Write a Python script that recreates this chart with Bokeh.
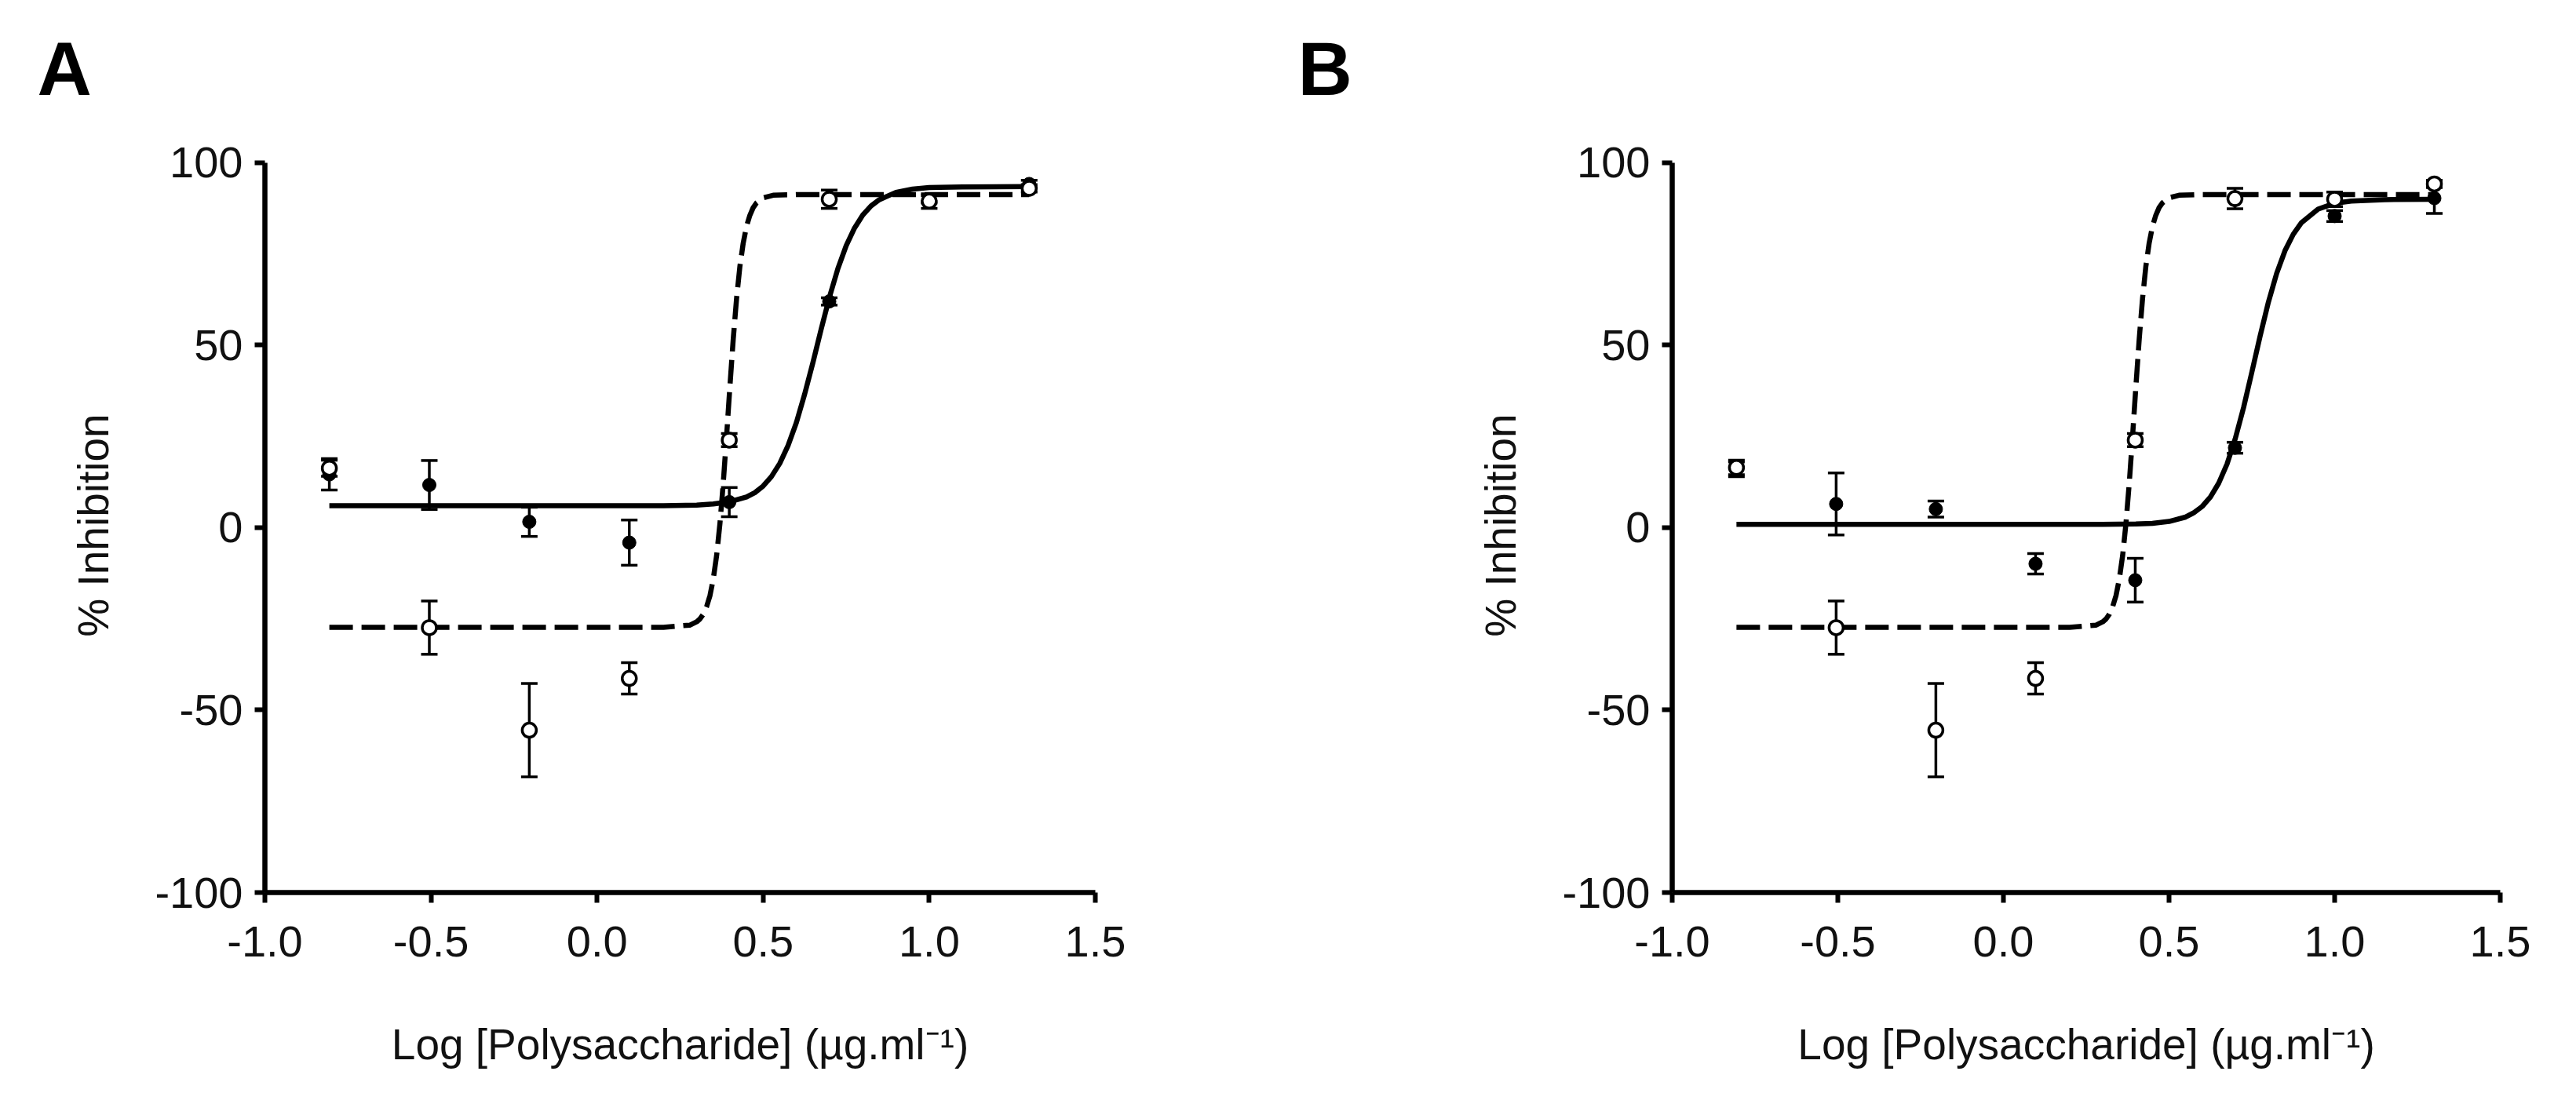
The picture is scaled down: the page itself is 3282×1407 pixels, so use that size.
from bokeh.plotting import figure
from bokeh.layouts import row
from bokeh.models import Range1d, FixedTicker, Title
from bokeh.embed import file_html
from bokeh.resources import INLINE

# log10 of the polysaccharide concentrations (20 ug/ml, two-fold dilutions)
log_conc = [-0.806, -0.505, -0.204, 0.097, 0.398, 0.699, 1.0, 1.301]

# panel A - closed circles (solid fit) and open circles (dashed fit)
a_closed = [14.6, 11.7, 1.6, -4.1, 7.0, 62.0, 90.0, 94.2]
a_closed_err = [4.3, 6.7, 4.0, 6.2, 4.0, 1.0, 1.0, 1.0]
a_open = [16.3, -27.4, -55.5, -41.3, 24.0, 90.0, 89.5, 93.0]
a_open_err = [2.2, 7.3, 12.8, 4.3, 1.8, 2.5, 2.0, 1.0]

# panel B
b_closed = [16.0, 6.5, 5.1, -9.9, -14.4, 21.9, 85.4, 90.3]
b_closed_err = [2.0, 8.5, 2.2, 2.8, 6.0, 1.5, 1.5, 4.2]
b_open = [16.5, -27.4, -55.5, -41.3, 24.0, 90.2, 90.0, 94.2]
b_open_err = [2.0, 7.3, 12.8, 4.3, 1.8, 2.8, 2.0, 1.0]

# fitted curves
a_solid_x = [-0.806, 0.20, 0.30, 0.35, 0.40, 0.45, 0.475, 0.50, 0.525, 0.55, 0.575,
             0.60, 0.625, 0.65, 0.675, 0.70, 0.725, 0.75, 0.775, 0.80, 0.825, 0.85,
             0.90, 0.95, 1.00, 1.10, 1.301]
a_solid_y = [6.0, 6.0, 6.2, 6.5, 7.1, 8.4, 9.6, 11.4, 14.0, 17.6, 22.5,
             28.8, 36.6, 45.3, 54.5, 63.3, 71.0, 77.3, 82.1, 85.7, 88.2, 89.9,
             91.9, 92.8, 93.2, 93.4, 93.5]

b_solid_x = [-0.806, 0.30, 0.40, 0.45, 0.50, 0.55, 0.575, 0.60, 0.625, 0.65, 0.675,
             0.70, 0.725, 0.75, 0.775, 0.80, 0.825, 0.85, 0.875, 0.90, 0.95, 1.00,
             1.05, 1.15, 1.301]
b_solid_y = [0.9, 0.9, 1.0, 1.2, 1.7, 2.9, 4.1, 5.8, 8.4, 12.2, 17.4,
             24.4, 32.9, 42.6, 52.5, 61.8, 69.7, 75.9, 80.4, 83.6, 87.3, 88.9,
             89.5, 89.9, 90.0]

# the open-circle fit is the same in both panels
dash_x = [-0.806, 0.20, 0.28, 0.30, 0.31, 0.32, 0.33, 0.34, 0.35, 0.36, 0.37,
          0.38, 0.39, 0.40, 0.41, 0.42, 0.43, 0.44, 0.45, 0.46, 0.47, 0.48,
          0.50, 0.53, 0.60, 1.301]
dash_y = [-27.3, -27.3, -26.7, -25.8, -25.0, -23.7, -21.6, -18.6, -14.0, -7.6, 1.2,
          12.3, 25.2, 38.8, 51.7, 62.8, 71.6, 78.0, 82.6, 85.6, 87.7, 89.0,
          90.4, 91.1, 91.3, 91.3]

x_ticks = [-1.0, -0.5, 0.0, 0.5, 1.0, 1.5]
x_tick_labels = ["-1.0", "-0.5", "0.0", "0.5", "1.0", "1.5"]
y_ticks = [-100, -50, 0, 50, 100]
y_tick_labels = ["-100", "-50", "0", "50", "100"]

FONT = "Liberation Sans"
INK = "#111111"
Y_TOP = 114.4  # frame runs a bit above 100 so the panel letter sits high


def panel(letter, letter_offset, closed, closed_err, open_, open_err, solid_x, solid_y,
          width, left, right):
    p = figure(width=width, height=1391, output_backend="svg", toolbar_location=None,
               x_range=Range1d(-1.0, 1.5), y_range=Range1d(-100, Y_TOP),
               min_border_left=left, min_border_right=right,
               min_border_top=140, min_border_bottom=254)
    p.outline_line_color = None
    p.grid.visible = False

    p.add_layout(Title(text=letter, align="left", offset=letter_offset, standoff=0,
                       text_font=FONT, text_font_size="96px", text_font_style="bold",
                       text_color="black"), "above")

    p.xaxis.ticker = FixedTicker(ticks=x_ticks)
    p.xaxis.major_label_overrides = dict(zip(x_ticks, x_tick_labels))
    p.yaxis.ticker = FixedTicker(ticks=y_ticks)
    p.yaxis.major_label_overrides = dict(zip(y_ticks, y_tick_labels))
    p.yaxis.bounds = (-100, 100)
    p.xaxis.axis_label = "Log [Polysaccharide] (µg.ml⁻¹)"
    # trailing no-break spaces keep the label centred on -100..100
    p.yaxis.axis_label = "% Inhibition" + "\u00a0" * 4
    p.axis.axis_line_width = 6.5
    p.axis.axis_line_color = "black"
    p.axis.major_tick_line_width = 6
    p.axis.major_tick_line_color = "black"
    p.axis.major_tick_in = 0
    p.axis.major_tick_out = 13
    p.axis.minor_tick_line_color = None
    p.axis.major_label_text_font = FONT
    p.axis.major_label_text_font_size = "56px"
    p.axis.major_label_text_color = INK
    p.axis.axis_label_text_font = FONT
    p.axis.axis_label_text_font_size = "55px"
    p.axis.axis_label_text_font_style = "normal"
    p.axis.axis_label_text_color = INK
    p.xaxis.major_label_standoff = 30
    p.yaxis.major_label_standoff = 15
    p.xaxis.axis_label_standoff = 78
    p.yaxis.axis_label_standoff = 44

    # fits
    p.line(solid_x, solid_y, line_width=6.5, color="black", line_join="round")
    p.line(dash_x, dash_y, line_width=6.5, color="black", line_dash="30 11",
           line_join="round")

    # error bars
    for ys, es in ((closed, closed_err), (open_, open_err)):
        lo = [y - e for y, e in zip(ys, es)]
        hi = [y + e for y, e in zip(ys, es)]
        p.segment(x0=log_conc, y0=lo, x1=log_conc, y1=hi, line_width=3.5, color="black")
        p.scatter(log_conc, lo, marker="dash", size=21, line_width=3.5, color="black")
        p.scatter(log_conc, hi, marker="dash", size=21, line_width=3.5, color="black")

    p.scatter(log_conc, closed, marker="circle", size=17, fill_color="black",
              line_color="black")
    p.scatter(log_conc, open_, marker="circle", size=18, fill_color="white",
              line_color="black", line_width=3.5)
    return p


pa = panel("A", -290, a_closed, a_closed_err, a_open, a_open_err,
           a_solid_x, a_solid_y, 1640, 337, 245)
pb = panel("B", -477, b_closed, b_closed_err, b_open, b_open_err,
           b_solid_x, b_solid_y, 1634, 490, 89)

p = row(pa, pb)
open("out.html", "w").write(file_html(p, INLINE))
